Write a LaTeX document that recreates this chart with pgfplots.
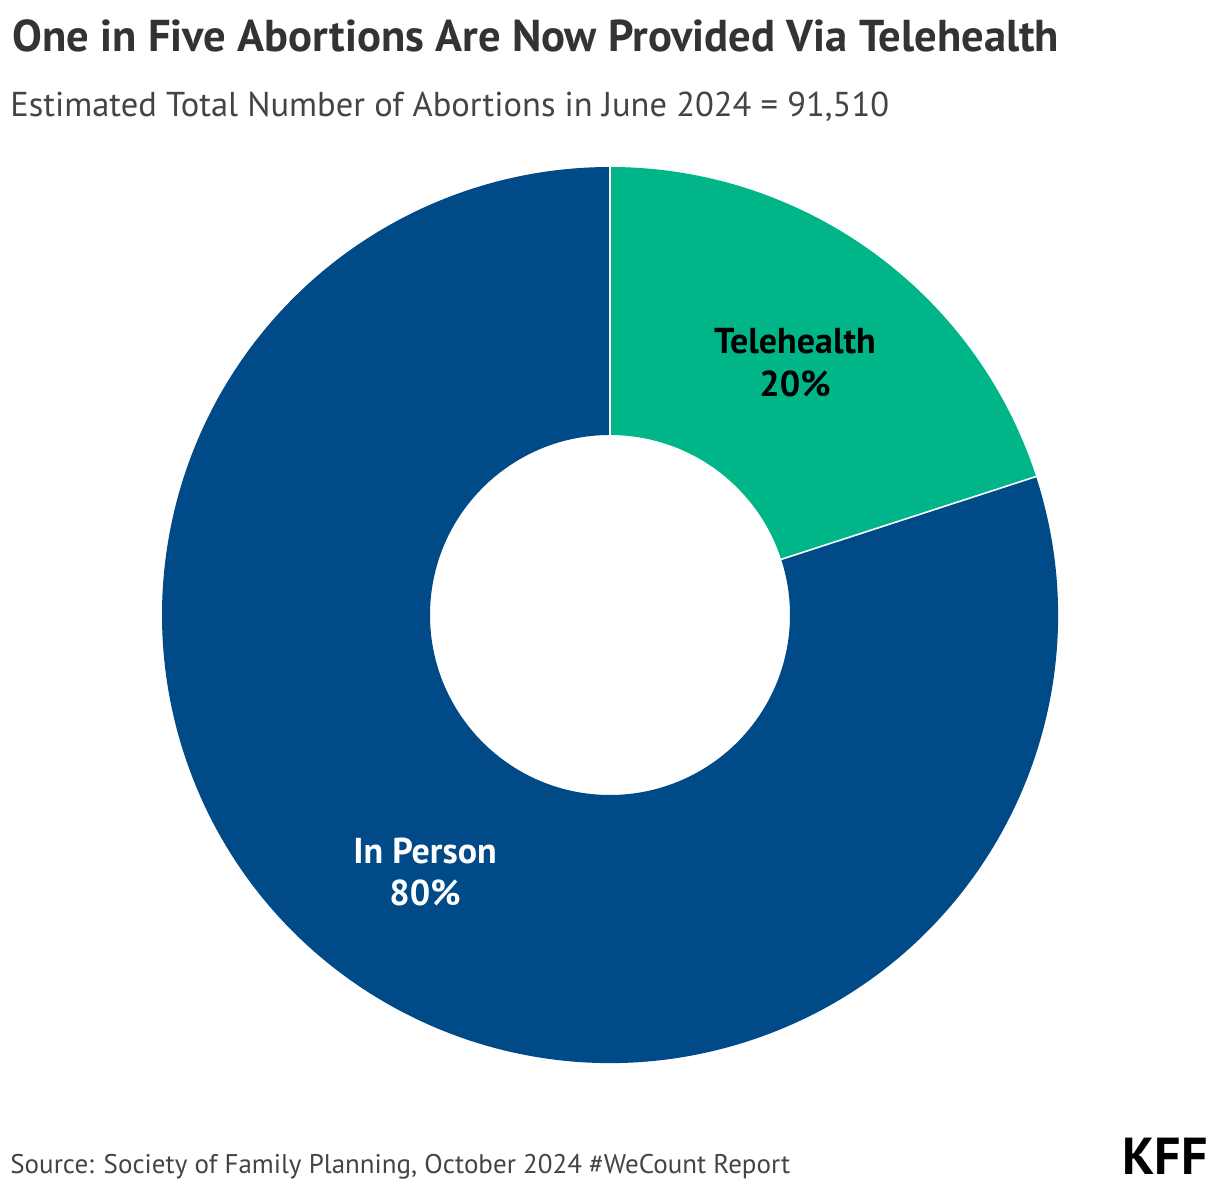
\documentclass[border=0pt]{standalone}
\usepackage{pgfplots}
\pgfplotsset{compat=1.18}
\usepackage{pgfplotstable}
\usepackage{fontspec}
\setmainfont{PT Sans}
\definecolor{tele}{HTML}{00B689}
\definecolor{inper}{HTML}{004A87}
\definecolor{titlec}{HTML}{333333}
\definecolor{subc}{HTML}{444444}
\pgfplotstableread{
label value
Telehealth 20
InPerson 80
}\shares
\begin{document}
\begin{tikzpicture}
\pgfplotstablegetelem{0}{value}\of\shares \let\vA\pgfplotsretval
\pgfplotstablegetelem{1}{value}\of\shares \let\vB\pgfplotsretval
\pgfmathsetmacro{\aS}{90}
\pgfmathsetmacro{\aM}{90-3.6*\vA}
\pgfmathsetmacro{\aE}{\aM-3.6*\vB}
\begin{axis}[
  x=0.5pt, y=0.5pt,
  xmin=0, xmax=1220, ymin=0, ymax=1190,
  hide axis, clip=false, scale only axis,
]
\path (axis cs:0,0) rectangle (axis cs:1220,1190);
% Telehealth sector
\fill[tele] (axis cs:610,575) ++(\aS:224pt) arc[start angle=\aS, end angle=\aM, radius=224pt]
   -- ++(\aM+180:134pt) arc[start angle=\aM, end angle=\aS, radius=90pt] -- cycle;
% In person sector
\fill[inper] (axis cs:610,575) ++(\aM:224pt) arc[start angle=\aM, end angle=\aE, radius=224pt]
   -- ++(\aE+180:134pt) arc[start angle=\aE, end angle=\aM, radius=90pt] -- cycle;
% separators
\draw[white, line width=0.8pt] (axis cs:610,575) ++(\aS:90pt) -- ++(\aS:134pt);
\draw[white, line width=0.8pt] (axis cs:610,575) ++(\aM:90pt) -- ++(\aM:134pt);
% labels
\node[anchor=base, font=\fontsize{18}{21}\selectfont\bfseries, text=black] at (axis cs:795,836) {Telehealth};
\node[anchor=base, font=\fontsize{18}{21}\selectfont\bfseries, text=black] at (axis cs:795,793) {\vA\%};
\node[anchor=base, font=\fontsize{18}{21}\selectfont\bfseries, text=white] at (axis cs:425,327) {In Person};
\node[anchor=base, font=\fontsize{18}{21}\selectfont\bfseries, text=white] at (axis cs:425,285) {\vB\%};
% titles
\node[anchor=base west, inner sep=0pt, font=\fontsize{22.3}{26}\selectfont\bfseries, text=titlec] at (axis cs:12,1138) {One in Five Abortions Are Now Provided Via Telehealth};
\node[anchor=base west, inner sep=0pt, font=\fontsize{17.25}{21}\selectfont, text=subc] at (axis cs:10,1073) {Estimated Total Number of Abortions in June 2024 = 91,510};
\node[anchor=base west, inner sep=0pt, font=\fontsize{13.5}{16}\selectfont, text=subc] at (axis cs:10,17) {Source: Society of Family Planning, October 2024 \#WeCount Report};
\node[anchor=base east, inner sep=0pt, font=\fontsize{26}{30}\selectfont\bfseries, text=black] at (axis cs:1208,16) {KFF};
\end{axis}
\end{tikzpicture}
\end{document}
